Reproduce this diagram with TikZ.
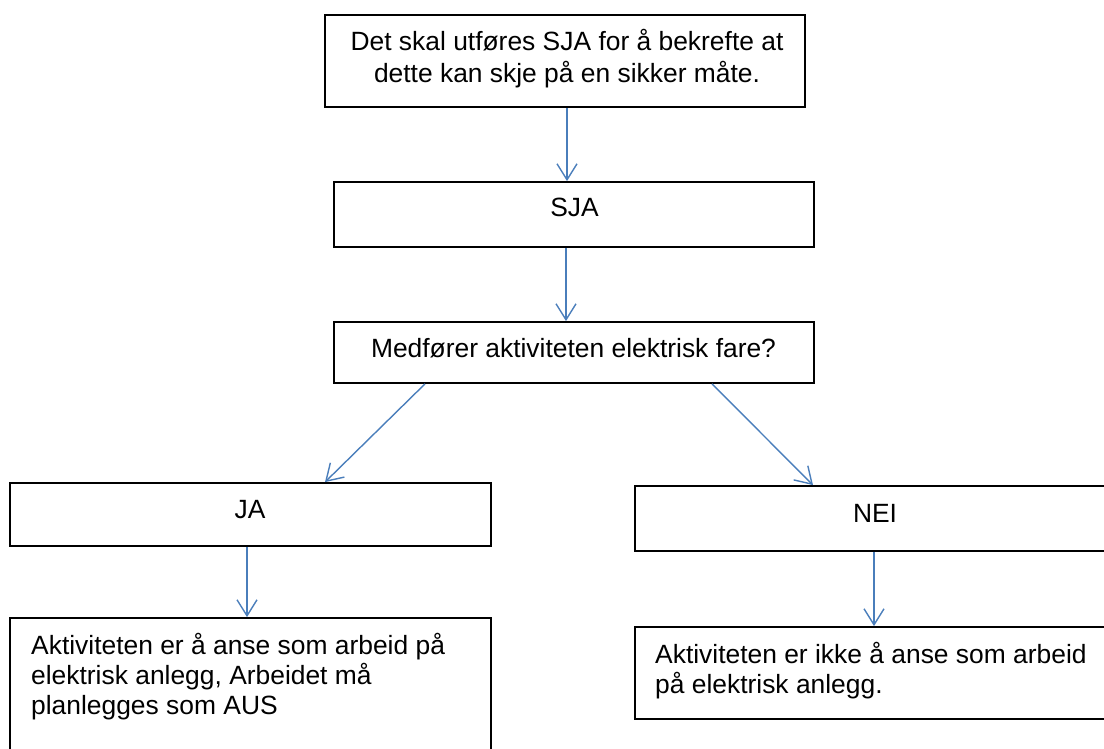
\documentclass[tikz,border=0pt]{standalone}
\usepackage{fontspec}
\setmainfont{Liberation Sans}
\usetikzlibrary{arrows.meta}
\definecolor{conn}{RGB}{74,126,187}
\begin{document}
\begin{tikzpicture}[x=1pt,y=-1pt,
  box/.style={draw=black, line width=1.8pt, rectangle, inner sep=0pt, fill=white},
  txt/.style={inner sep=0pt, anchor=base, font=\fontsize{26.4}{30}\selectfont},
  conn/.style={draw=conn, line width=1.4pt, -{Straight Barb[length=16pt,width=20pt,line width=1.4pt]}}]
\useasboundingbox[fill=white] (0,0) rectangle (1104,749);
% boxes
\node[box, minimum width=480pt, minimum height=92pt] (b1) at (565,61) {};
\node[box, minimum width=480pt, minimum height=65pt] (b2) at (574,214.5) {};
\node[box, minimum width=480pt, minimum height=61pt] (b3) at (574,352.5) {};
\node[box, minimum width=481pt, minimum height=63pt] (ja) at (250.5,514.5) {};
\node[box, minimum width=480pt, minimum height=65pt] (nei) at (875,518.5) {};
\node[box, minimum width=481pt, minimum height=150pt] (bl) at (250.5,693) {};
\node[box, minimum width=480pt, minimum height=92pt] (br) at (875,673) {};
% texts
\node[txt, font=\fontsize{26.4}{32}\selectfont] (t1) at (567,51)
  {\parbox[t]{470pt}{\centering Det skal utføres SJA for å bekrefte at\\dette kan skje på en sikker måte.}};
\node[txt] (t2) at (574.5,217) {SJA};
\node[txt] (t3) at (573.5,357) {Medfører aktiviteten elektrisk fare?};
\node[txt] (tja) at (250,518) {JA};
\node[txt] (tnei) at (875,522) {NEI};
\node[txt, anchor=base west] (tbl) at (31,654)
  {\parbox[t]{455pt}{\raggedright Aktiviteten er å anse som arbeid på\\elektrisk anlegg, Arbeidet må\\planlegges som AUS}};
\node[txt, anchor=base west] (tbr) at (655,663)
  {\parbox[t]{455pt}{\raggedright Aktiviteten er ikke å anse som arbeid\\på elektrisk anlegg.}};
% connectors
\draw[conn] ([xshift=2pt]b1.south) -- ([xshift=-7pt]b2.north);
\draw[conn] ([xshift=-8pt]b2.south) -- ([xshift=-8pt]b3.north);
\draw[conn] ([xshift=-149pt]b3.south) -- ([xshift=74.5pt]ja.north);
\draw[conn] ([xshift=138pt]b3.south) -- ([xshift=-62pt]nei.north);
\draw[conn] ([xshift=-3.5pt]ja.south) -- ([xshift=-3.5pt]bl.north);
\draw[conn] ([xshift=-1pt]nei.south) -- ([xshift=-1pt]br.north);
\end{tikzpicture}
\end{document}
